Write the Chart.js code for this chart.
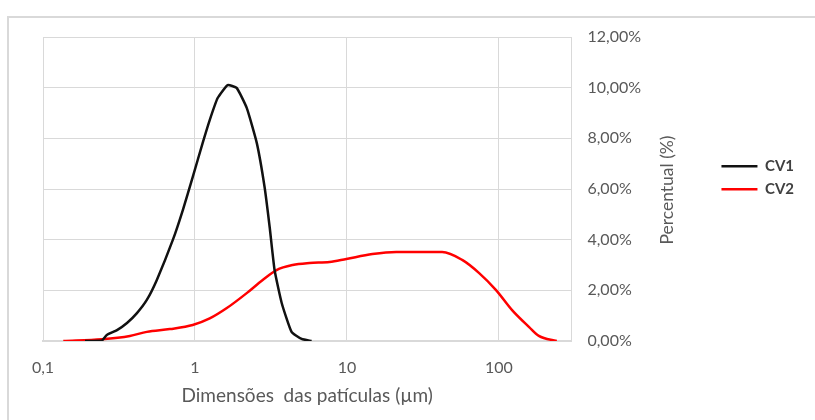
<!DOCTYPE html>
<html lang="pt">
<head>
    <meta charset="UTF-8">
    <title>Distribuição granulométrica CV1 / CV2</title>
    <script src="https://cdn.jsdelivr.net/npm/chart.js"></script>
    <style>
        body {
            margin: 0;
            background-color: #FFFFFF;
        }

        #wrap {
            position: relative;
            width: 815px;
            height: 420px;
        }

        #frame {
            position: absolute;
            left: 7px;
            top: 16px;
            width: 808px;
            height: 404px;
            border-top: 2px solid #D9D9D9;
            border-left: 2px solid #D9D9D9;
            box-sizing: border-box;
            pointer-events: none;
        }
    </style>
</head>
<body>
    <div id="wrap">
        <canvas id="sizeChart" width="815" height="420"></canvas>
        <div id="frame"></div>
    </div>

    <script>
        // Particle size (µm) and percentage
        const cv1Size = [0.189, 0.244, 0.263, 0.307, 0.357, 0.415, 0.482, 0.561, 0.715, 0.832, 0.966, 1.124, 1.25, 1.41, 1.64, 1.88, 2.19, 2.55, 2.87, 3.10, 3.34, 3.72, 4.32, 5.03, 5.85];
        const cv1Pct  = [0.00, 0.02, 0.24, 0.43, 0.71, 1.10, 1.62, 2.41, 3.99, 5.17, 6.47, 7.82, 8.72, 9.59, 10.10, 9.99, 9.20, 7.82, 6.08, 4.50, 2.80, 1.50, 0.36, 0.08, 0.00];

        const cv2Size = [0.136, 0.244, 0.373, 0.482, 0.683, 0.966, 1.25, 1.62, 2.19, 2.79, 3.44, 4.39, 5.67, 7.68, 9.91, 14.7, 21.1, 28.6, 42.3, 57.3, 74.1, 95.7, 122, 158, 183, 240];
        const cv2Pct  = [0.00, 0.07, 0.20, 0.36, 0.47, 0.63, 0.89, 1.30, 1.89, 2.41, 2.80, 3.00, 3.08, 3.12, 3.24, 3.43, 3.51, 3.51, 3.51, 3.20, 2.68, 2.01, 1.22, 0.55, 0.20, 0.00];

        const xTicks = [0.1, 1, 10, 100, 300];
        const xTickLabels = ['0,1', '1', '10', '100', ''];

        const toPoints = (xs, ys) => xs.map((x, i) => ({ x: x, y: ys[i] }));

        // y axis title reads bottom-to-top on the right side
        const yTitlePlugin = {
            id: 'yTitle',
            afterDraw(chart) {
                const c = chart.ctx;
                c.save();
                c.translate(667, 190);
                c.rotate(-Math.PI / 2);
                c.font = '17.5px Lato';
                c.fillStyle = '#595959';
                c.textAlign = 'center';
                c.textBaseline = 'middle';
                c.fillText('Percentual (%)', 0, 0);
                c.restore();
            }
        };

        const ctx = document.getElementById('sizeChart').getContext('2d');
        const sizeChart = new Chart(ctx, {
            type: 'line',
            data: {
                datasets: [
                    {
                        label: 'CV1',
                        data: toPoints(cv1Size, cv1Pct),
                        borderColor: '#111111',
                        backgroundColor: '#111111',
                        borderWidth: 2.5,
                        pointRadius: 0,
                        tension: 0.15
                    },
                    {
                        label: 'CV2',
                        data: toPoints(cv2Size, cv2Pct),
                        borderColor: '#FF0000',
                        backgroundColor: '#FF0000',
                        borderWidth: 2.5,
                        pointRadius: 0,
                        cubicInterpolationMode: 'monotone'
                    }
                ]
            },
            options: {
                responsive: false,
                animation: false,
                layout: {
                    padding: { left: 43, top: 37, right: 11, bottom: 13 }
                },
                scales: {
                    x: {
                        type: 'logarithmic',
                        min: 0.1,
                        max: 300,
                        afterBuildTicks: (scale) => {
                            scale.ticks = xTicks.map(v => ({ value: v }));
                        },
                        afterFit: (scale) => {
                            scale.height = 66;
                        },
                        ticks: {
                            autoSkip: false,
                            maxRotation: 0,
                            padding: 17,
                            color: '#595959',
                            font: { family: 'Lato', size: 16 },
                            callback: (value) => xTickLabels[xTicks.indexOf(value)]
                        },
                        grid: {
                            color: '#D9D9D9',
                            drawTicks: false
                        },
                        border: { color: '#D9D9D9', width: 2 },
                        title: {
                            display: true,
                            text: 'Dimensões  das patículas (µm)',
                            color: '#595959',
                            font: { family: 'Lato', size: 19 },
                            padding: { top: 0, bottom: 0 }
                        }
                    },
                    y: {
                        position: 'right',
                        min: 0,
                        max: 12,
                        afterFit: (scale) => {
                            scale.width = 142;
                        },
                        ticks: {
                            stepSize: 2,
                            padding: 16,
                            color: '#595959',
                            font: { family: 'Lato', size: 16 },
                            callback: (value) => value.toFixed(2).replace('.', ',') + '%'
                        },
                        grid: {
                            color: '#D9D9D9',
                            drawTicks: false
                        },
                        border: { color: '#D9D9D9' }
                    }
                },
                plugins: {
                    legend: {
                        position: 'right',
                        align: 'start',
                        // empty title only pushes the items down to mid height
                        title: {
                            display: true,
                            text: '',
                            font: { family: 'Lato', size: 14 },
                            padding: { top: 97, bottom: 0 }
                        },
                        labels: {
                            usePointStyle: true,
                            pointStyle: 'line',
                            pointStyleWidth: 36,
                            padding: 8,
                            color: '#404040',
                            font: { family: 'Lato', size: 15, weight: 'bold' }
                        }
                    },
                    tooltip: { enabled: false }
                }
            },
            plugins: [yTitlePlugin]
        });
    </script>
</body>
</html>
